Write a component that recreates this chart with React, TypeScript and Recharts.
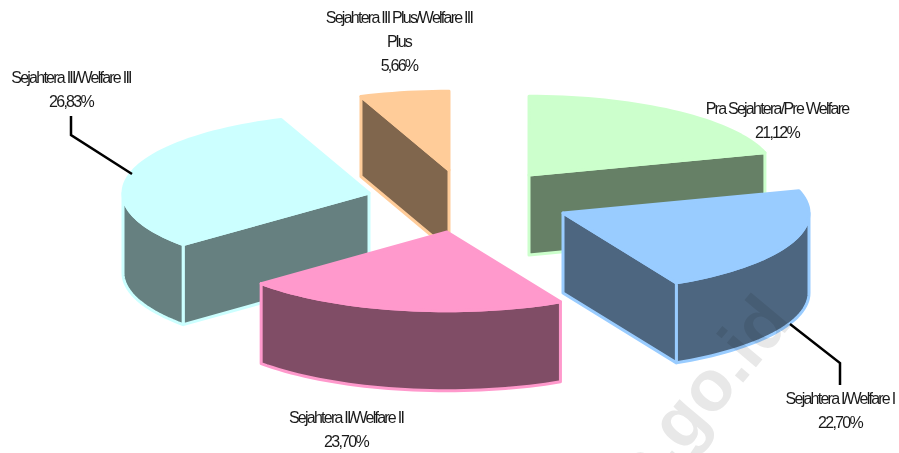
import React from 'react';
import { PieChart, Pie, Cell } from 'recharts';

// Listed anticlockwise from the green slice, which is also a valid back-to-front paint order.
const categories = [
  'Pra Sejahtera/Pre Welfare',
  'Sejahtera III Plus/Welfare III Plus',
  'Sejahtera III/Welfare III',
  'Sejahtera II/Welfare II',
  'Sejahtera I/Welfare I',
];
const shares = [21.12, 5.66, 26.83, 23.7, 22.7];
const topColors = ['#CCFFCC', '#FFCC99', '#CCFFFF', '#FF99CC', '#99CCFF'];
const wallColors = ['#668066', '#80664D', '#668080', '#804D66', '#4D6680'];

// Style and layout of the 3-D drawing
const WIDTH = 899;
const HEIGHT = 453;
const CX = 460;
const CY = 200;
const RADIUS = 246;
const TILT = 0.32;
const DEPTH = 80;
const explode: [number, number][] = [
  [69, -25],
  [-11, -30],
  [-91, -7],
  [-13, 32],
  [103, 13],
];
// Foreshortening of the reference's perspective: pie angle -> drawn angle
const warpIn = [0, 76, 157.7, 243, 339.6, 360];
const warpOut = [0, 73.5, 152.5, 229, 339, 360];

const labelLayout = [
  { x: 777, y: 114, lines: ['Pra Sejahtera/Pre Welfare'] },
  { x: 399, y: 23, lines: ['Sejahtera III Plus/Welfare III', 'Plus'] },
  { x: 71, y: 83, lines: ['Sejahtera III/Welfare III'] },
  { x: 346, y: 423, lines: ['Sejahtera II/Welfare II'] },
  { x: 840, y: 404, lines: ['Sejahtera I/Welfare I'] },
];
const leaders: Record<number, [number, number][]> = {
  2: [[71, 116], [71, 135], [132, 174]],
  4: [[790, 324], [840, 363], [840, 385]],
};

const warp = (deg: number) => {
  for (let i = 1; i < warpIn.length; i++) {
    if (deg <= warpIn[i]) {
      const t = (deg - warpIn[i - 1]) / (warpIn[i] - warpIn[i - 1]);
      return warpOut[i - 1] + t * (warpOut[i] - warpOut[i - 1]);
    }
  }
  return deg;
};

const data = categories.map((name, i) => ({ name, value: shares[i], idx: i }));
const startAt = 90 - (shares[0] / 100) * 360;

function Slice(props: any) {
  const { cx, cy, outerRadius, startAngle, endAngle, payload } = props;
  const idx: number = payload?.idx ?? props.idx ?? props.index ?? 0;
  let a = 90 - endAngle;
  let b = 90 - startAngle;
  while (a < -1e-6) {
    a += 360;
    b += 360;
  }
  const t0 = warp(a);
  const t1 = warp(Math.min(b, 360));
  const ax = cx + explode[idx][0];
  const ay = cy + explode[idx][1];
  const pt = (deg: number, drop = 0): [number, number] => {
    const r = (deg * Math.PI) / 180;
    return [ax + outerRadius * Math.sin(r), ay - outerRadius * TILT * Math.cos(r) + drop];
  };
  const arc = (from: number, to: number, drop = 0) => {
    const out: [number, number][] = [];
    const n = Math.max(2, Math.ceil(Math.abs(to - from) / 2));
    for (let i = 0; i <= n; i++) out.push(pt(from + ((to - from) * i) / n, drop));
    return out;
  };
  const toPath = (p: [number, number][]) =>
    'M' + p.map((q) => `${q[0].toFixed(2)},${q[1].toFixed(2)}`).join('L') + 'Z';
  const sin = (d: number) => Math.sin((d * Math.PI) / 180);
  const walls: [number, number][][] = [];
  const apex: [number, number] = [ax, ay];
  const apexLow: [number, number] = [ax, ay + DEPTH];
  if (sin(t0) < -1e-6) walls.push([apex, pt(t0), pt(t0, DEPTH), apexLow]);
  if (sin(t1) > 1e-6) walls.push([apex, pt(t1), pt(t1, DEPTH), apexLow]);
  const wa = Math.max(t0, 90);
  const wb = Math.min(t1, 270);
  if (wb > wa) walls.push([...arc(wa, wb), ...arc(wb, wa, DEPTH)]);
  const common = { stroke: topColors[idx], strokeWidth: 3, strokeLinejoin: 'round' as const };
  return (
    <g>
      {walls.map((w, i) => (
        <path key={i} d={toPath(w)} fill={wallColors[idx]} {...common} />
      ))}
      <path d={toPath([apex, ...arc(t0, t1)])} fill={topColors[idx]} {...common} />
    </g>
  );
}

function SliceLabel(props: any) {
  const idx: number = props.payload?.idx ?? props.idx ?? props.index ?? 0;
  const layout = labelLayout[idx];
  const lines = [...layout.lines, `${shares[idx].toFixed(2).replace('.', ',')}%`];
  const lead = leaders[idx];
  return (
    <g>
      {lead && (
        <polyline
          points={lead.map((p) => p.join(',')).join(' ')}
          fill="none"
          stroke="#000"
          strokeWidth={2.5}
        />
      )}
      {lines.map((line, i) => (
        <text
          key={i}
          x={layout.x}
          y={layout.y + i * 24}
          textAnchor="middle"
          fill="#1a1a1a"
          stroke="none"
          fontFamily="'Liberation Sans', Arial, sans-serif"
          fontSize={16}
          letterSpacing={-1.75}
        >
          {line}
        </text>
      ))}
    </g>
  );
}

export default function App() {
  return (
    <div style={{ position: 'absolute', left: 0, top: 0, width: WIDTH, height: HEIGHT, overflow: 'hidden', background: '#fff' }}>
      <PieChart width={WIDTH} height={HEIGHT} margin={{ top: 0, right: 0, bottom: 0, left: 0 }}>
        <Pie
          data={data}
          dataKey="value"
          nameKey="name"
          cx={CX}
          cy={CY}
          innerRadius={0}
          outerRadius={RADIUS}
          startAngle={startAt}
          endAngle={startAt + 360}
          paddingAngle={0}
          isAnimationActive={false}
          shape={Slice}
          label={SliceLabel}
          labelLine={false}
        >
          {data.map((d, i) => (
            <Cell key={d.name} fill={topColors[i]} />
          ))}
        </Pie>
      </PieChart>
      <svg
        width={WIDTH}
        height={HEIGHT}
        style={{ position: 'absolute', left: 0, top: 0, mixBlendMode: 'multiply', pointerEvents: 'none' }}
      >
        <text
          transform="translate(794,322) rotate(-50)"
          textAnchor="end"
          fontFamily="'Liberation Sans', Arial, sans-serif"
          fontWeight="bold"
          fontSize={72}
          fill="#e8e8e8"
        >
          bps.go.id
        </text>
      </svg>
    </div>
  );
}
